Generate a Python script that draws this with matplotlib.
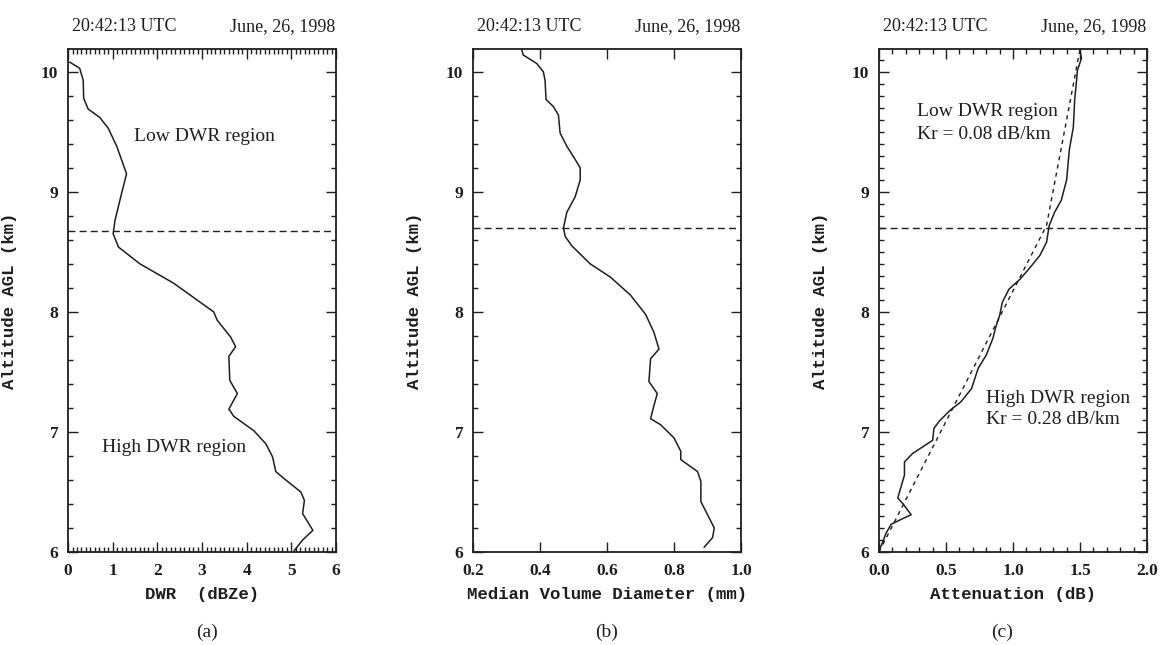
import numpy as np
import matplotlib.pyplot as plt
from matplotlib.ticker import MultipleLocator

# ---- panel (a): DWR profile
dwr_alt = [10.08, 10.03, 9.93, 9.78, 9.69, 9.62, 9.53, 9.38, 9.15, 8.99, 8.76, 8.65,
           8.54, 8.40, 8.24, 8.12, 8.00, 7.93, 7.79, 7.71, 7.63, 7.43, 7.32, 7.19,
           7.13, 7.01, 6.90, 6.79, 6.67, 6.61, 6.50, 6.43, 6.32, 6.18, 6.10, 6.01]
dwr_val = [0.04, 0.26, 0.34, 0.35, 0.45, 0.71, 0.90, 1.09, 1.31, 1.20, 1.05, 1.01,
           1.13, 1.61, 2.36, 2.81, 3.26, 3.34, 3.64, 3.75, 3.60, 3.62, 3.79, 3.60,
           3.71, 4.16, 4.43, 4.58, 4.65, 4.84, 5.21, 5.29, 5.25, 5.48, 5.25, 5.06]

# ---- panel (b): median volume diameter
mvd_alt = [10.19, 10.14, 10.07, 10.00, 9.93, 9.77, 9.71, 9.64, 9.49, 9.38, 9.27, 9.20,
           9.10, 8.96, 8.83, 8.70, 8.63, 8.55, 8.40, 8.29, 8.14, 7.98, 7.83, 7.69,
           7.61, 7.42, 7.32, 7.22, 7.11, 7.06, 6.95, 6.84, 6.77, 6.67, 6.59, 6.42,
           6.31, 6.20, 6.12, 6.04]
mvd_val = [0.345, 0.35, 0.39, 0.41, 0.415, 0.418, 0.44, 0.455, 0.46, 0.48, 0.505, 0.52,
           0.52, 0.505, 0.48, 0.47, 0.475, 0.495, 0.55, 0.61, 0.67, 0.715, 0.74, 0.755,
           0.73, 0.725, 0.75, 0.74, 0.73, 0.76, 0.80, 0.82, 0.82, 0.87, 0.88, 0.88,
           0.90, 0.92, 0.915, 0.89]

# ---- panel (c): measured attenuation and fitted lines
att_alt = [10.18, 10.11, 10.01, 9.88, 9.77, 9.54, 9.35, 9.10, 8.93, 8.83, 8.72, 8.58,
           8.47, 8.36, 8.27, 8.19, 8.08, 7.97, 7.87, 7.78, 7.64, 7.53, 7.36, 7.25,
           7.18, 7.09, 7.03, 6.93, 6.82, 6.75, 6.64, 6.45, 6.40, 6.31, 6.28, 6.23,
           6.15, 6.06, 6.02]
att_val = [1.50, 1.51, 1.48, 1.47, 1.46, 1.45, 1.42, 1.40, 1.36, 1.31, 1.27, 1.25,
           1.20, 1.12, 1.05, 0.97, 0.92, 0.90, 0.87, 0.85, 0.80, 0.74, 0.69, 0.61,
           0.53, 0.45, 0.41, 0.40, 0.25, 0.19, 0.19, 0.14, 0.18, 0.24, 0.18, 0.09,
           0.05, 0.02, 0.0]
fit_alt = [6.0, 8.72, 10.19]
fit_val = [0.0, 1.25, 1.50]

boundary_alt = [8.67, 8.70, 8.70]

header_time = "20:42:13 UTC"
header_date = "June, 26, 1998"

serif = "Liberation Serif"
mono = "Liberation Mono"
ink = "#1e1e1e"

fig = plt.figure(figsize=(11.63, 6.45), dpi=100)

panels = [
    dict(left=0.0585, x=dwr_val, y=dwr_alt, xlim=(0, 6), major=1, minor=0.1, ymin=0.2,
         fmt="{:.0f}", xlabel="DWR  (dBZe)", tag="(a)", tagx=0.52),
    dict(left=0.4067, x=mvd_val, y=mvd_alt, xlim=(0.2, 1.0), major=0.2, minor=None, ymin=0.2,
         fmt="{:.1f}", xlabel="Median Volume Diameter (mm)", tag="(b)", tagx=0.5),
    dict(left=0.7558, x=att_val, y=att_alt, xlim=(0, 2.0), major=0.5, minor=0.1, ymin=0.1,
         fmt="{:.1f}", xlabel="Attenuation (dB)", tag="(c)", tagx=0.46),
]

axes = []
for i, p in enumerate(panels):
    ax = fig.add_axes([p["left"], 0.1442, 0.2305, 0.7798])
    ax.plot(p["x"], p["y"], color=ink, lw=1.1)
    ax.axhline(boundary_alt[i], color=ink, lw=1.0, ls=(0, (5, 3)))
    ax.set_xlim(*p["xlim"])
    ax.set_ylim(6.0, 10.19)

    ax.xaxis.set_major_locator(MultipleLocator(p["major"]))
    if p["minor"]:
        ax.xaxis.set_minor_locator(MultipleLocator(p["minor"]))
    ax.yaxis.set_major_locator(MultipleLocator(1))
    ax.yaxis.set_minor_locator(MultipleLocator(p["ymin"]))
    ticks = np.arange(p["xlim"][0], p["xlim"][1] + 1e-9, p["major"])
    ax.set_xticks(ticks, [p["fmt"].format(t) for t in ticks])
    ax.set_yticks([6, 7, 8, 9, 10], ["6", "7", "8", "9", "10"])

    ax.tick_params(which="both", direction="in", top=True, right=True, colors=ink,
                   width=1.0)
    ax.tick_params(which="major", length=7)
    ax.tick_params(which="minor", length=3.5)
    ax.tick_params(axis="x", pad=8)
    ax.tick_params(axis="y", pad=7)
    for lab in ax.get_xticklabels() + ax.get_yticklabels():
        lab.set_fontfamily(serif)
        lab.set_fontweight("bold")
        lab.set_fontsize(12.5)
    for s in ax.spines.values():
        s.set_linewidth(1.3)
        s.set_color(ink)

    ax.set_xlabel(p["xlabel"], fontfamily=mono, fontweight="bold", fontsize=12.5, color=ink)
    ax.xaxis.set_label_coords(0.5, -0.07)
    ax.set_ylabel("Altitude AGL (km)", fontfamily=mono, fontweight="bold", fontsize=12.5,
                  color=ink)
    ax.yaxis.set_label_coords(-0.19, 0.5)

    ax.text(0.21, 1.045, header_time, transform=ax.transAxes, ha="center", va="center",
            fontfamily=serif, fontsize=13, color=ink)
    ax.text(0.80, 1.045, header_date, transform=ax.transAxes, ha="center", va="center",
            fontfamily=serif, fontsize=13, color=ink)
    ax.text(p["tagx"], -0.16, p["tag"], transform=ax.transAxes, ha="center", va="center",
            fontfamily=serif, fontsize=14, color=ink)
    axes.append(ax)

# fitted attenuation line in (c)
axes[2].plot(fit_val, fit_alt, color=ink, lw=1.0, ls=(0, (3, 3)))

# annotations
txt = dict(fontfamily=serif, fontsize=14, color=ink, va="center")
axes[0].text(3.06, 9.46, "Low DWR region", ha="center", **txt)
axes[0].text(2.38, 6.87, "High DWR region", ha="center", **txt)
axes[2].text(0.28, 9.67, "Low DWR region", ha="left", **txt)
axes[2].text(0.28, 9.48, "Kr = 0.08 dB/km", ha="left", **txt)
axes[2].text(0.80, 7.28, "High DWR region", ha="left", **txt)
axes[2].text(0.80, 7.10, "Kr = 0.28 dB/km", ha="left", **txt)

fig.savefig("out.png", dpi=100)
